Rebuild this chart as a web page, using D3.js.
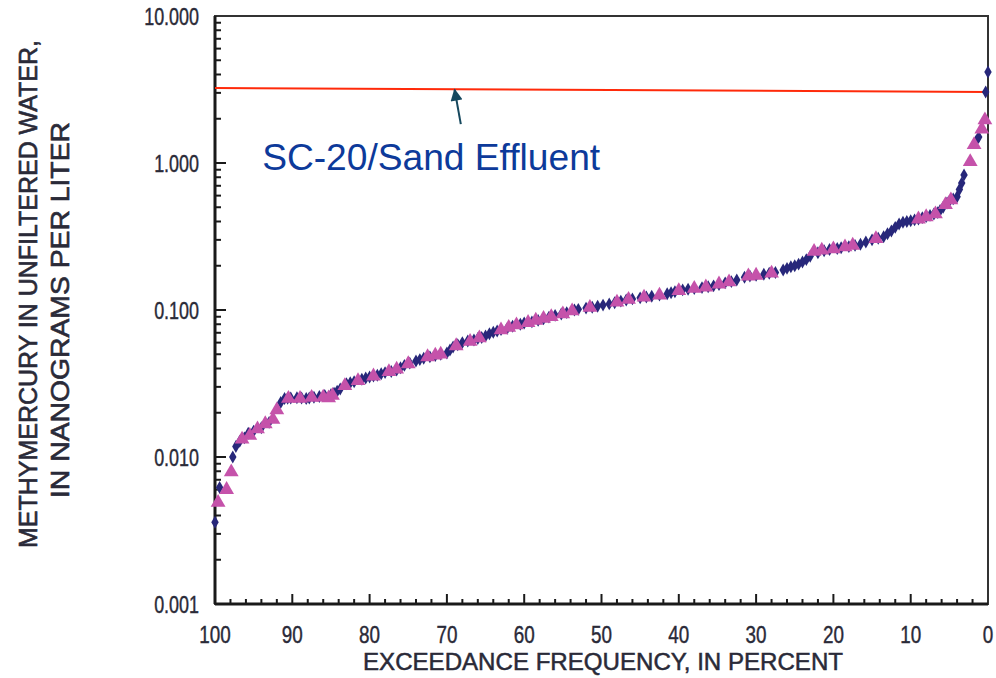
<!DOCTYPE html>
<html>
<head>
<meta charset="utf-8">
<script src="https://cdn.jsdelivr.net/npm/d3@7"></script>
<style>
  body { margin: 0; background: #fff; }
  svg { display: block; }
</style>
</head>
<body>
<svg id="chart" width="996" height="678"></svg>
<script>
// exceedance frequency (percent) and methylmercury (ng/L)
const blueFreq = [100, 99.4, 97.7, 97.3, 96.8, 96.2, 95.7, 95.0, 94.0, 93.0, 91.5, 91.0, 90.2, 89.4, 88.2, 87.2, 86.5,
  84.6, 83.8, 83.0, 82.0, 81.0, 80.0, 79.0, 78.0, 76.5, 75.5, 74.0, 73.0, 71.5, 70.0, 69.2, 68.0, 66.5, 65.5,
  64.5, 63.5, 62.2, 60.5, 59.0, 57.5, 56.0, 54.5, 53.5, 52.0, 50.5, 49.0, 47.5, 46.0, 45.0, 43.5, 41.5, 40.5,
  39.5, 38.0, 37.0, 35.5, 34.0, 32.5, 31.5, 30.0, 29.0, 27.5, 26.5, 25.5, 24.5, 23.5, 22.0, 20.5, 19.0, 18.0,
  16.5, 15.0, 13.5, 12.5, 11.5, 10.5, 9.5, 8.5, 7.5, 6.5, 5.8, 5.3, 4.5, 4.0, 3.4, 3.1, 1.5, 1.2, 0.3, 0.0,
  90.6, 88.8, 87.8, 85.8, 85.0, 84.2, 82.5, 80.5, 79.5, 78.5, 77.2, 76.0, 74.8, 73.5, 72.2, 70.8, 69.6, 68.6,
  67.3, 66.0, 65.0, 64.0, 63.0, 61.5, 60.0, 58.2, 56.8, 55.2, 53.0, 51.2, 49.8, 48.3, 46.8, 44.2, 42.5, 41.0,
  38.8, 36.2, 34.8, 33.2, 30.8, 28.3, 26.0, 25.0, 24.0, 23.0, 21.2, 19.5, 17.2, 15.8, 14.2, 13.0, 12.0, 11.0,
  10.0, 9.0, 8.0, 7.0, 6.2, 5.0, 3.7];
const blueValue = [0.0036, 0.0062, 0.0100, 0.0118, 0.0128, 0.0135, 0.0145, 0.0150, 0.0158, 0.0172, 0.0235, 0.0250, 0.0252, 0.0253, 0.0250, 0.0255, 0.0258,
  0.0272, 0.0290, 0.0315, 0.0325, 0.0338, 0.0350, 0.0360, 0.0375, 0.0390, 0.0420, 0.0450, 0.0470, 0.0490, 0.0510, 0.0560, 0.0600, 0.0625, 0.0650,
  0.0690, 0.0720, 0.0750, 0.0800, 0.0830, 0.0870, 0.0920, 0.0960, 0.1000, 0.1030, 0.1060, 0.1100, 0.1150, 0.1190, 0.1210, 0.1240, 0.1290, 0.1330,
  0.1370, 0.1400, 0.1420, 0.1460, 0.1530, 0.1600, 0.1670, 0.1720, 0.1750, 0.1800, 0.1870, 0.1970, 0.2050, 0.2200, 0.2450, 0.2580, 0.2650, 0.2700,
  0.2800, 0.3000, 0.3150, 0.3450, 0.3850, 0.4000, 0.4100, 0.4250, 0.4400, 0.4600, 0.5000, 0.5350, 0.5700, 0.5900, 0.7300, 0.8300, 1.42, 1.50, 3.04, 4.16,
  0.0251, 0.0252, 0.0252, 0.0262, 0.0265, 0.0280, 0.0320, 0.0345, 0.0355, 0.0368, 0.0382, 0.0405, 0.0435, 0.0460, 0.0480, 0.0500, 0.0535, 0.0580,
  0.0615, 0.0640, 0.0665, 0.0705, 0.0735, 0.0775, 0.0815, 0.0850, 0.0895, 0.0940, 0.1010, 0.1045, 0.1080, 0.1120, 0.1170, 0.1225, 0.1265, 0.1310,
  0.1385, 0.1440, 0.1490, 0.1560, 0.1700, 0.1780, 0.1920, 0.2000, 0.2120, 0.2320, 0.2530, 0.2620, 0.2750, 0.2900, 0.3080, 0.3300, 0.3650, 0.3950,
  0.4050, 0.4150, 0.4320, 0.4500, 0.4750, 0.5500, 0.6600];

const pinkFreq = [99.6, 98.5, 97.9, 95.5, 94.5, 93.5, 92.5, 92.0, 89.0, 86.0, 85.3, 84.8, 81.5, 79.5, 77.5, 75.0, 72.5, 70.8,
  68.8, 67.0, 63.0, 61.0, 59.5, 58.5, 56.5, 55.0, 51.5, 48.0, 44.5, 42.5, 40.0, 36.5, 33.5, 31.0, 28.0, 22.5,
  20.0, 17.5, 14.5, 9.0, 6.8, 4.8, 2.3, 1.8, 0.8, 0.4,
  96.5, 90.5, 87.5, 83.2, 76.5, 71.5, 65.8, 62.0, 57.5, 53.8, 46.5, 38.0, 34.8, 30.0, 21.5, 18.5, 8.0, 5.5];
const pinkValue = [0.0049, 0.0060, 0.0079, 0.0140, 0.0155, 0.0168, 0.0180, 0.0209, 0.0250, 0.0255, 0.0252, 0.0262, 0.0330, 0.0355, 0.0380, 0.0430, 0.0480, 0.0500,
  0.0570, 0.0610, 0.0730, 0.0790, 0.0820, 0.0850, 0.0900, 0.0940, 0.1040, 0.1130, 0.1220, 0.1260, 0.1350, 0.1430, 0.1550, 0.1700, 0.1780, 0.2500,
  0.2600, 0.2750, 0.3050, 0.4150, 0.4500, 0.5600, 1.02, 1.33, 1.70, 1.96,
  0.0132, 0.0250, 0.0254, 0.0305, 0.0395, 0.0492, 0.0645, 0.0760, 0.0875, 0.0985, 0.1180, 0.1400, 0.1500, 0.1720, 0.2550, 0.2680, 0.4300, 0.5200];

// red reference line, ends at 100 and 0 percent
const refFreq = [100, 0];
const refValue = [3.24, 3.04];

const xTicks = [100, 90, 80, 70, 60, 50, 40, 30, 20, 10, 0];
const yTicks = [10, 1, 0.1, 0.01, 0.001];
const yTickLabels = ['10.000', '1.000', '0.100', '0.010', '0.001'];

const labelText = 'SC-20/Sand Effluent';
const xTitle = 'EXCEEDANCE FREQUENCY, IN PERCENT';
const yTitle = ['METHYMERCURY IN UNFILTERED WATER,', 'IN NANOGRAMS PER LITER'];

const svg = d3.select('#chart');
const margin = { top: 16, right: 8, bottom: 74, left: 215 };
const width = 996, height = 678;

const x = d3.scaleLinear().domain([100, 0]).range([margin.left, width - margin.right]);
const y = d3.scaleLog().domain([0.001, 10]).range([height - margin.bottom, margin.top]);

const sans = "'Liberation Sans', Arial, sans-serif";
const axisColor = '#1a1a1a';
const textColor = '#2a2a38';

// minor ticks
const yMinor = [];
[0.001, 0.01, 0.1, 1].forEach(d => { for (let k = 2; k <= 9; k++) yMinor.push(d * k); });
const xMinor = d3.range(0, 101, 2).filter(d => d % 10 !== 0);

const g = svg.append('g');

g.selectAll('.ymin').data(yMinor).join('line')
  .attr('x1', x(100)).attr('x2', x(100) + 6)
  .attr('y1', d => y(d)).attr('y2', d => y(d))
  .attr('stroke', axisColor).attr('stroke-width', 2);
g.selectAll('.ymaj').data(yTicks).join('line')
  .attr('x1', x(100)).attr('x2', x(100) + 11)
  .attr('y1', d => y(d)).attr('y2', d => y(d))
  .attr('stroke', axisColor).attr('stroke-width', 2);
g.selectAll('.xmin').data(xMinor).join('line')
  .attr('x1', d => x(d)).attr('x2', d => x(d))
  .attr('y1', y(0.001)).attr('y2', y(0.001) - 5)
  .attr('stroke', axisColor).attr('stroke-width', 2);
g.selectAll('.xmaj').data(xTicks).join('line')
  .attr('x1', d => x(d)).attr('x2', d => x(d))
  .attr('y1', y(0.001)).attr('y2', y(0.001) - 10)
  .attr('stroke', axisColor).attr('stroke-width', 2);

// frame
g.append('rect')
  .attr('x', x(100)).attr('y', y(10))
  .attr('width', x(0) - x(100)).attr('height', y(0.001) - y(10))
  .attr('fill', 'none').attr('stroke', '#333').attr('stroke-width', 2);
g.append('line')
  .attr('x1', x(100)).attr('x2', x(100)).attr('y1', y(10)).attr('y2', y(0.001))
  .attr('stroke', axisColor).attr('stroke-width', 3);
g.append('line')
  .attr('x1', x(100)).attr('x2', x(0)).attr('y1', y(0.001)).attr('y2', y(0.001))
  .attr('stroke', axisColor).attr('stroke-width', 3);

// tick labels (condensed look)
g.selectAll('.ylab').data(yTicks).join('text')
  .attr('transform', d => `translate(${x(100) - 16},${y(d) + 9}) scale(0.78,1)`)
  .attr('text-anchor', 'end')
  .attr('font-family', sans).attr('font-size', 23)
  .attr('fill', textColor).attr('stroke', textColor).attr('stroke-width', 0.4)
  .text((d, i) => yTickLabels[i]);
g.selectAll('.xlab').data(xTicks).join('text')
  .attr('transform', d => `translate(${x(d)},${y(0.001) + 39}) scale(0.82,1)`)
  .attr('text-anchor', 'middle')
  .attr('font-family', sans).attr('font-size', 23)
  .attr('fill', textColor).attr('stroke', textColor).attr('stroke-width', 0.4)
  .text(d => d);

// titles
g.append('text')
  .attr('x', 603).attr('y', 670)
  .attr('text-anchor', 'middle')
  .attr('font-family', sans).attr('font-size', 24)
  .attr('fill', textColor).attr('stroke', textColor).attr('stroke-width', 0.5)
  .attr('textLength', 480).attr('lengthAdjust', 'spacingAndGlyphs')
  .text(xTitle);
g.append('text')
  .attr('transform', 'translate(37,294) rotate(-90)')
  .attr('text-anchor', 'middle')
  .attr('font-family', sans).attr('font-size', 25)
  .attr('fill', textColor).attr('stroke', textColor).attr('stroke-width', 0.6)
  .attr('textLength', 508).attr('lengthAdjust', 'spacingAndGlyphs')
  .text(yTitle[0]);
g.append('text')
  .attr('transform', 'translate(69,310) rotate(-90)')
  .attr('text-anchor', 'middle')
  .attr('font-family', sans).attr('font-size', 25)
  .attr('fill', textColor).attr('stroke', textColor).attr('stroke-width', 0.6)
  .attr('textLength', 376).attr('lengthAdjust', 'spacingAndGlyphs')
  .text(yTitle[1]);

// red line
g.append('line')
  .attr('x1', x(refFreq[0])).attr('y1', y(refValue[0]))
  .attr('x2', x(refFreq[1])).attr('y2', y(refValue[1]))
  .attr('stroke', '#ff2a0a').attr('stroke-width', 2);

// data points
const blue = blueFreq.map((f, i) => ({ f, v: blueValue[i] }));
const pink = pinkFreq.map((f, i) => ({ f, v: pinkValue[i] }));

g.selectAll('.blue').data(blue).join('path')
  .attr('transform', d => `translate(${x(d.f)},${y(d.v)})`)
  .attr('d', d3.symbol(d3.symbolDiamond, 48))
  .attr('fill', '#27277a');
g.selectAll('.pink').data(pink).join('path')
  .attr('transform', d => `translate(${x(d.f)},${y(d.v)})`)
  .attr('d', d3.symbol(d3.symbolTriangle, 95))
  .attr('fill', '#c552aa');

// annotation
svg.append('defs').append('marker')
  .attr('id', 'head').attr('viewBox', '0 0 10 10')
  .attr('refX', 9).attr('refY', 5)
  .attr('markerWidth', 7).attr('markerHeight', 6)
  .attr('orient', 'auto')
  .append('path').attr('d', 'M0,0 L10,5 L0,10 z').attr('fill', '#16485e');

const tailF = 68.2, tailV = 1.84, headF = 69.0, headV = 3.2;
g.append('line')
  .attr('x1', x(tailF)).attr('y1', y(tailV))
  .attr('x2', x(headF)).attr('y2', y(headV) + 1)
  .attr('stroke', '#16485e').attr('stroke-width', 2)
  .attr('marker-end', 'url(#head)');

g.append('text')
  .attr('x', x(93.9)).attr('y', y(0.89))
  .attr('font-family', sans)
  .attr('font-size', 36)
  .attr('fill', '#0d3a9a')
  .attr('textLength', 338).attr('lengthAdjust', 'spacingAndGlyphs')
  .text(labelText);
</script>
</body>
</html>
